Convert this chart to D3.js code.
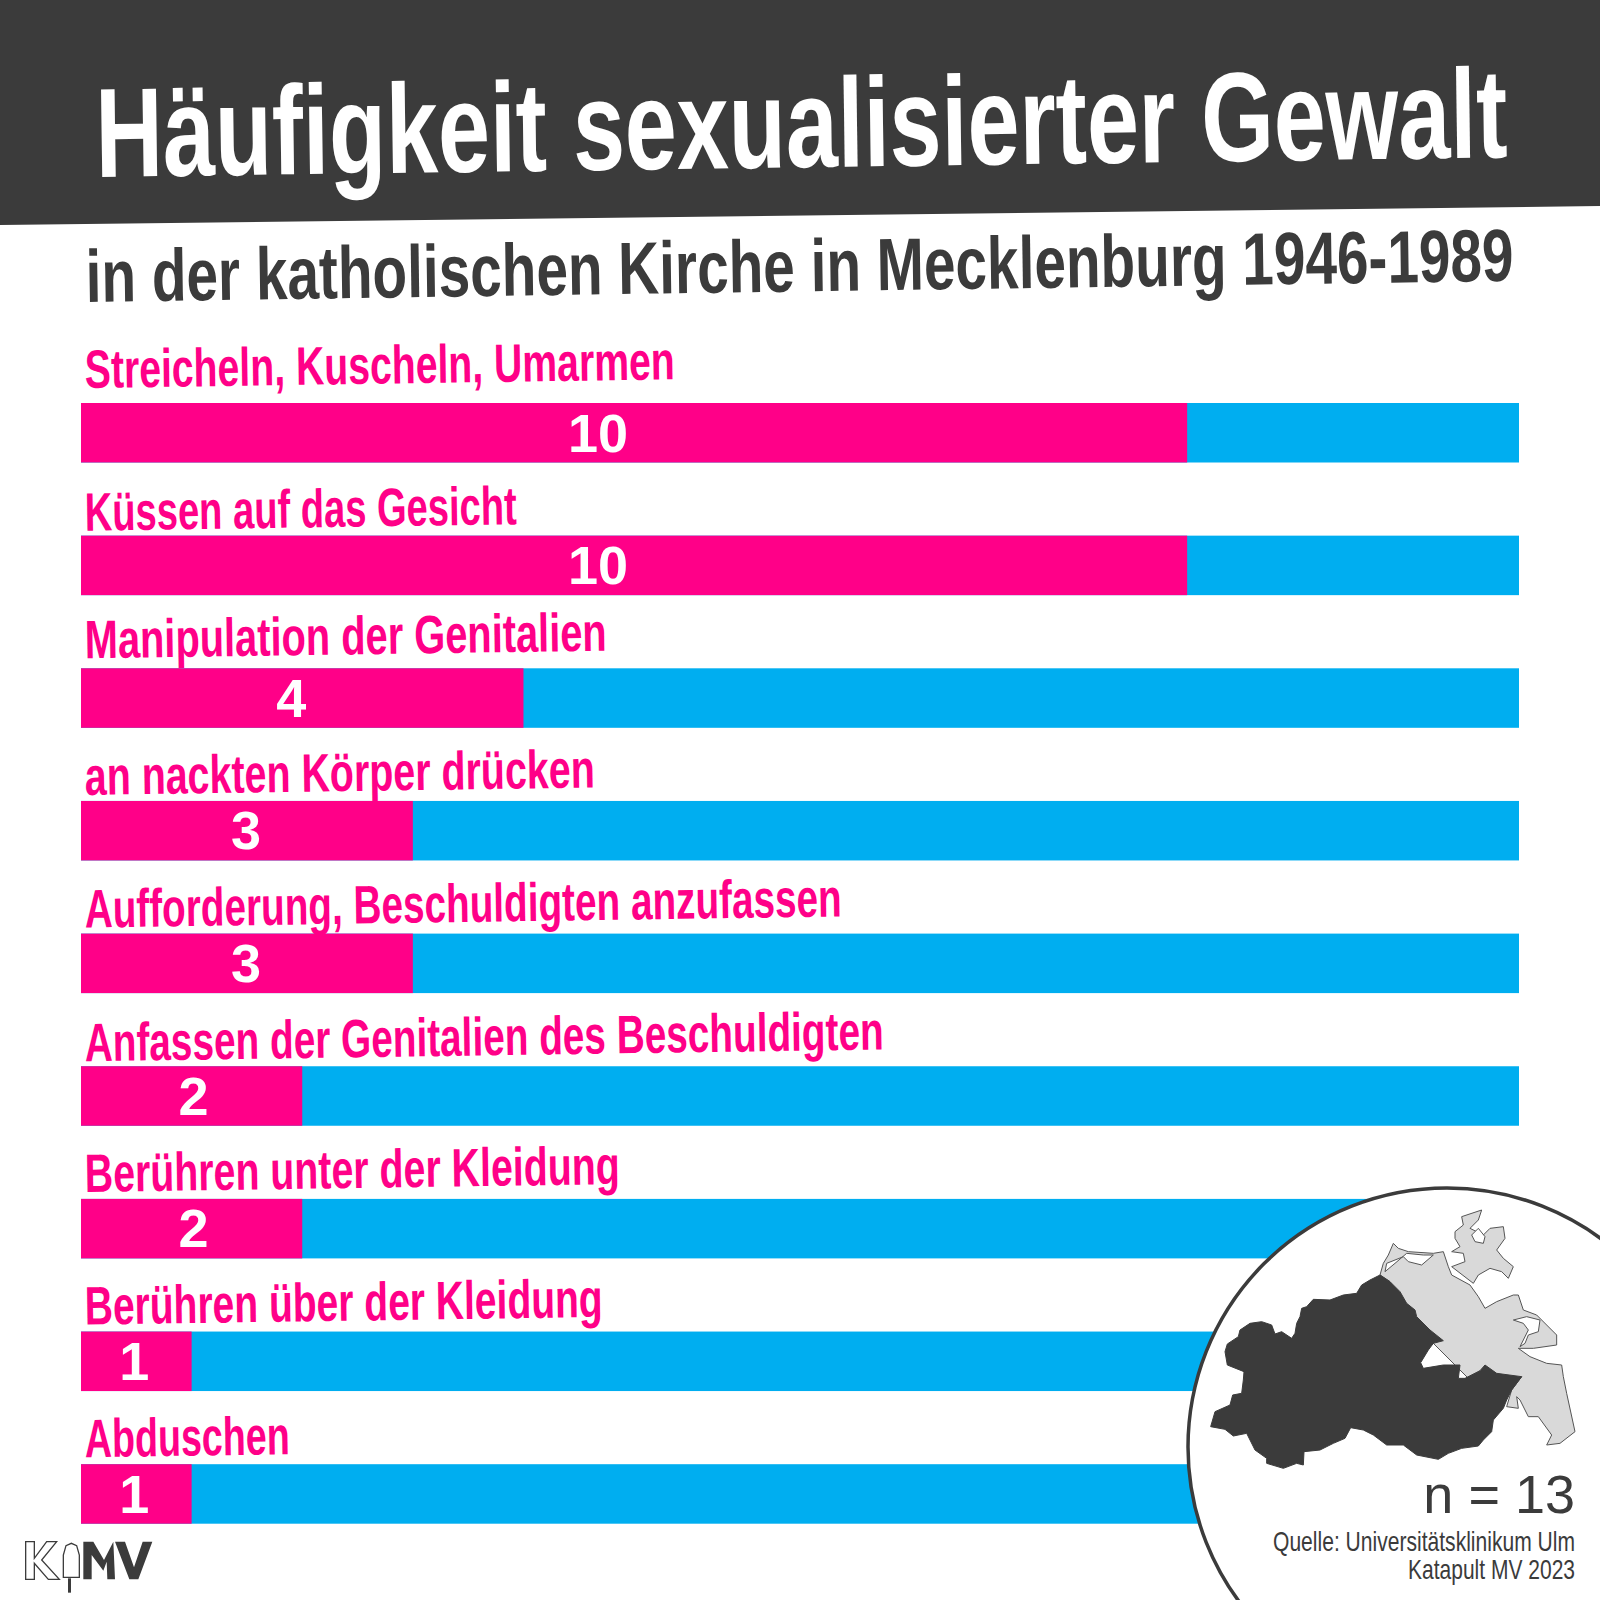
<!DOCTYPE html>
<html><head><meta charset="utf-8">
<script src="https://cdn.jsdelivr.net/npm/d3@7"></script>
<style>html,body{margin:0;padding:0;background:#fff}svg{display:block}text{font-family:"Liberation Sans Narrow","Liberation Sans",sans-serif}</style>
</head><body><svg id="c" width="1600" height="1600"></svg>
<script>
const categories=["Streicheln, Kuscheln, Umarmen","Küssen auf das Gesicht","Manipulation der Genitalien","an nackten Körper drücken","Aufforderung, Beschuldigten anzufassen","Anfassen der Genitalien des Beschuldigten","Berühren unter der Kleidung","Berühren über der Kleidung","Abduschen"];
const values=[10,10,4,3,3,2,2,1,1];
const total=13;
const title="Häufigkeit sexualisierter Gewalt";
const subtitle="in der katholischen Kirche in Mecklenburg 1946-1989";
const nLabel="n = 13";
const sources=["Quelle: Universitätsklinikum Ulm","Katapult MV 2023"];
// layout helpers, not data
const labelWidths=[590,432,522,510,757,799,535,518,205];
const labelLift=[15,5,10,6,6,5,7,7,7];
const valueShift=[-36,-36,-11,-1,-1,2,2,-2,-2];
const DARK="#3b3b3b",PINK="#ff0088",BLUE="#00aef0",LIGHT="#d9d9d9";
const svg=d3.select("#c");
const x=d3.scaleLinear().domain([0,total]).range([81,1519]);
const y=d3.scaleBand().domain(categories).range([403,1523+73]).paddingInner(0.55).paddingOuter(0).align(0);
const bh=59.5, step=132.65, rowY=i=>403+i*step;

// header
svg.append("path").attr("d",d3.line()([[0,0],[1600,0],[1600,206],[0,225]])+"Z").attr("fill",DARK);
function tilted(t,x0,yb,w,size,fill,angle,weight){
  return svg.append("text").attr("x",x0).attr("y",yb).attr("font-size",size).attr("font-weight",weight||700).attr("fill",fill)
   .attr("textLength",w).attr("lengthAdjust","spacingAndGlyphs")
   .attr("transform",`rotate(${angle} ${x0} ${yb})`).text(t);
}
tilted(title,96,177,1412,127,"#fff",-0.8);
tilted(subtitle,86,302,1428,74,DARK,-0.85);

// bars
const rows=svg.append("g").selectAll("g").data(categories).join("g");
rows.append("rect").attr("x",x(0)).attr("y",(d,i)=>rowY(i)).attr("width",x(total)-x(0)).attr("height",bh).attr("fill",BLUE);
rows.append("rect").attr("x",x(0)).attr("y",(d,i)=>rowY(i)).attr("width",(d,i)=>x(values[i])-x(0)).attr("height",bh).attr("fill",PINK);
rows.append("text").attr("x",(d,i)=>(x(0)+x(values[i]))/2+valueShift[i]).attr("y",(d,i)=>rowY(i)+bh-11)
  .attr("text-anchor","middle").attr("font-size",54).attr("font-weight",700).attr("fill","#fff").text((d,i)=>values[i]);
categories.forEach((c,i)=>{tilted(c,85,rowY(i)-labelLift[i],labelWidths[i],54,PINK,-0.85);});

// circle inset
svg.append("circle").attr("cx",1447).attr("cy",1447).attr("r",259).attr("fill","#fff").attr("stroke",DARK).attr("stroke-width",3.5);

// map outlines, traced in crop units
const mx=d3.scaleLinear().domain([0,1350]).range([1150,1600]);
const my=d3.scaleLinear().domain([0,1320]).range([1160,1600]);
const darkOutline=[[690,345],[660,360],[635,375],[620,400],[580,405],[540,420],[490,418],[470,440],[455,445],[450,470],[440,490],[435,520],[425,535],[395,515],[375,522],[365,495],[335,485],[300,490],[270,510],[265,530],[232,552],[225,575],[232,615],[282,635],[280,660],[275,700],[248,705],[240,735],[195,755],[182,800],[225,808],[250,828],[290,820],[315,870],[350,895],[350,910],[400,925],[440,910],[460,915],[462,875],[510,870],[550,850],[585,835],[602,803],[640,810],[670,825],[710,855],[760,855],[800,885],[865,898],[895,880],[935,865],[985,858],[1000,840],[1025,815],[1030,780],[1060,745],[1070,720],[1085,690],[1115,650],[1040,640],[1005,615],[990,632],[945,655],[925,655],[930,615],[880,615],[820,625],[812,608],[835,570],[850,550],[880,542],[840,510],[800,470],[795,450],[770,430],[750,395],[720,365]];
const lightOutline=[[690,345],[700,310],[715,285],[730,250],[745,265],[775,275],[850,280],[880,275],[895,320],[905,345],[960,375],[985,410],[1005,445],[1040,425],[1090,405],[1105,405],[1120,450],[1160,465],[1220,525],[1220,555],[1150,565],[1105,565],[1140,590],[1190,610],[1235,615],[1240,650],[1250,700],[1275,815],[1230,850],[1190,855],[1205,825],[1165,770],[1135,770],[1110,720],[1100,710],[1105,745],[1070,740],[1085,690],[1115,650],[1000,700],[800,500],[720,365]];
const islandOutline=[[915,215],[940,195],[935,170],[995,150],[985,180],[960,205],[1000,225],[1020,205],[1060,200],[1065,235],[1040,270],[1060,295],[1090,320],[1075,355],[1055,335],[1020,325],[985,345],[970,370],[905,320],[945,305],[940,280],[905,275],[930,260],[915,235]];
const holeA=[[1090,480],[1130,470],[1170,480],[1165,515],[1135,525],[1125,550],[1110,560],[1135,510],[1120,490]];
const holeB=[[705,335],[710,310],[760,290],[775,305],[815,315],[850,285],[820,285],[770,280],[735,310]];
const holeC=[[965,225],[985,205],[1005,230],[1000,250],[975,245]];
const mapLine=d3.line().x(d=>mx(d[0])).y(d=>my(d[1]));
const poly=(p,f,s)=>svg.append("path").attr("d",mapLine(p)+"Z").attr("fill",f).attr("stroke",s).attr("stroke-width",1).attr("stroke-linejoin","round");
poly(lightOutline,LIGHT,"#555");
poly(islandOutline,LIGHT,"#555");
poly(holeA,"#fff","#555");
poly(holeB,"#fff","#555");
poly(holeC,"#fff","#555");
poly(darkOutline,DARK,DARK);

// n and source
svg.append("text").attr("x",1575).attr("y",1513).attr("text-anchor","end").attr("font-size",54).attr("fill",DARK).text(nLabel);
sources.forEach((s,i)=>{
  const w=[302,167][i];
  svg.append("text").attr("x",1575-w).attr("y",1551+i*28).attr("font-size",28).attr("fill",DARK)
   .attr("textLength",w).attr("lengthAdjust","spacingAndGlyphs").text(s);
});

// logo
const lx=d3.scaleLinear().domain([0,220]).range([0,220]);
const ly=d3.scaleLinear().domain([0,120]).range([1480,1600]);
const lg=d3.line().x(d=>lx(d[0]/3)).y(d=>ly(d[1]/3));
const kShape=[[77,185],[103,185],[103,235],[140,185],[170,185],[125,240],[178,298],[145,298],[103,250],[103,298],[77,298]];
const popsicle=[[190,292],[190,225],[198,197],[214,190],[230,197],[238,225],[238,292]];
const stick=[[204,295],[213,295],[213,338],[204,338]];
const mShape=[[250,298],[250,185],[280,185],[312,240],[340,185],[345,298],[322,298],[320,245],[310,272],[275,225],[275,298]];
const vShape=[[345,185],[375,185],[402,262],[428,185],[457,185],[415,298],[388,298]];
svg.append("path").attr("d",lg(kShape)+"Z").attr("fill","none").attr("stroke",DARK).attr("stroke-width",1.3);
svg.append("path").attr("d",lg(popsicle)+"Z").attr("fill","none").attr("stroke",DARK).attr("stroke-width",1.3);
svg.append("path").attr("d",lg(stick)+"Z").attr("fill",DARK);
svg.append("path").attr("d",lg(mShape)+"Z").attr("fill",DARK);
svg.append("path").attr("d",lg(vShape)+"Z").attr("fill",DARK);
</script></body></html>
